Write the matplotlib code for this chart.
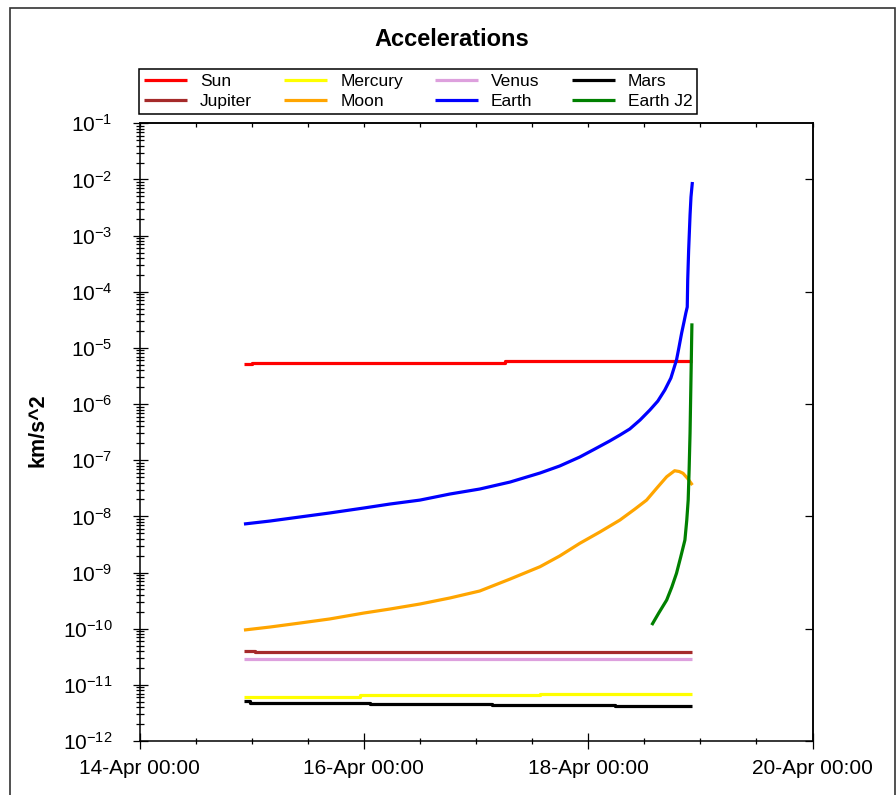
import numpy as np
import matplotlib

matplotlib.use("Agg")
import matplotlib.pyplot as plt
import matplotlib.dates as mdates
from matplotlib.patches import Rectangle
from matplotlib.ticker import LogLocator, NullFormatter, NullLocator

plt.rcParams["font.family"] = ["Liberation Sans", "DejaVu Sans"]
plt.rcParams["mathtext.fontset"] = "custom"
plt.rcParams["mathtext.rm"] = "Liberation Sans"
plt.rcParams["mathtext.it"] = "Liberation Sans:italic"
plt.rcParams["mathtext.bf"] = "Liberation Sans:bold"
plt.rcParams["mathtext.default"] = "regular"

START = np.datetime64("2020-04-14T00:00:00")
X_END = np.datetime64("2020-04-20T00:00:00")

# hours after 14-Apr 00:00 and accelerations in km/s^2
sun_hours = [22.35, 24.1, 78.2, 118.3]
sun_acc = [5.16e-6, 5.45e-6, 5.77e-6, 5.77e-6]

mercury_hours = [22.35, 47.2, 85.7, 118.3]
mercury_acc = [6.14e-12, 6.50e-12, 6.86e-12, 6.86e-12]

venus_hours = [22.35, 118.3]
venus_acc = [2.84e-11, 2.84e-11]

mars_hours = [22.35, 23.6, 49.3, 75.4, 101.7, 118.3]
mars_acc = [5.14e-12, 4.80e-12, 4.61e-12, 4.42e-12, 4.19e-12, 4.19e-12]

jupiter_hours = [22.35, 24.7, 118.3]
jupiter_acc = [4.05e-11, 3.84e-11, 3.84e-11]

moon_hours = [22.35, 27.9, 34.3, 40.7, 48.0, 53.6, 60.0, 66.4, 72.8, 79.3,
              85.7, 89.9, 94.2, 98.5, 102.8, 106.0, 108.5, 110.7, 112.8,
              113.7, 114.5, 115.5, 116.3, 117.3, 118.3]
moon_acc = [9.46e-11, 1.07e-10, 1.26e-10, 1.49e-10, 1.90e-10, 2.24e-10,
            2.75e-10, 3.52e-10, 4.69e-10, 7.66e-10, 1.27e-9, 1.97e-9, 3.31e-9,
            5.27e-9, 8.61e-9, 1.35e-8, 1.95e-8, 3.20e-8, 5.08e-8, 5.79e-8,
            6.50e-8, 6.29e-8, 5.85e-8, 4.72e-8, 3.61e-8]

earth_hours = [22.35, 27.9, 34.3, 40.7, 48.0, 53.6, 60.0, 66.4, 72.8, 79.3,
               85.7, 89.9, 94.2, 97.4, 100.6, 102.8, 104.9, 107.1, 109.2,
               110.9, 112.4, 113.7, 114.9, 115.4, 116.0, 116.5, 116.9, 117.2,
               117.3, 117.5, 117.8, 118.0, 118.3]
earth_acc = [7.31e-9, 8.26e-9, 9.75e-9, 1.15e-8, 1.41e-8, 1.66e-8, 1.95e-8,
             2.50e-8, 3.07e-8, 4.09e-8, 5.92e-8, 7.89e-8, 1.14e-7, 1.58e-7,
             2.20e-7, 2.81e-7, 3.60e-7, 5.20e-7, 7.83e-7, 1.13e-6, 1.78e-6,
             2.91e-6, 6.09e-6, 9.95e-6, 1.84e-5, 2.89e-5, 4.19e-5, 5.35e-5,
             1.62e-4, 5.54e-4, 2.33e-3, 4.87e-3, 9.01e-3]

earth_j2_hours = [109.6, 111.1, 112.8, 113.9, 114.9, 115.8, 116.7, 117.1,
                  117.4, 117.6, 117.8, 118.2]
earth_j2_acc = [1.16e-10, 1.90e-10, 3.24e-10, 5.52e-10, 9.68e-10, 1.89e-9,
                3.79e-9, 8.61e-9, 1.95e-8, 6.70e-8, 3.05e-7, 2.74e-5]


def to_dates(hours):
    secs = np.round(np.asarray(hours) * 3600).astype(np.int64)
    return START + secs.astype("timedelta64[s]")


W, H = 896, 795
fig = plt.figure(figsize=(W / 100, H / 100), dpi=100)
ax = fig.add_axes([139.5 / W, 1 - 741 / H, 673 / W, 617.7 / H])
ax.set_yscale("log")

lw = 2.3
series = [
    ("Sun", sun_hours, sun_acc, "#ff0000", "steps-post"),
    ("Mercury", mercury_hours, mercury_acc, "#ffff00", "steps-post"),
    ("Venus", venus_hours, venus_acc, "#dda0dd", "default"),
    ("Mars", mars_hours, mars_acc, "#000000", "steps-post"),
    ("Jupiter", jupiter_hours, jupiter_acc, "#a52a2a", "steps-post"),
    ("Moon", moon_hours, moon_acc, "#ffa500", "default"),
    ("Earth", earth_hours, earth_acc, "#0000ff", "default"),
    ("Earth J2", earth_j2_hours, earth_j2_acc, "#008000", "default"),
]
lines = {}
for name, hrs, acc, color, ds in series:
    (ln,) = ax.plot(to_dates(hrs), acc, color=color, lw=lw, drawstyle=ds,
                    solid_capstyle="butt", solid_joinstyle="round", label=name)
    lines[name] = ln

ax.set_xlim(START, X_END)
ax.set_ylim(1e-12, 1e-1)

ax.xaxis.set_major_locator(mdates.DayLocator(bymonthday=[14, 16, 18, 20]))
ax.xaxis.set_minor_locator(mdates.HourLocator(byhour=[0, 12]))
ax.xaxis.set_major_formatter(mdates.DateFormatter("%d-%b %H:%M"))
ax.yaxis.set_major_locator(LogLocator(base=10, numticks=20))
ax.yaxis.set_minor_locator(LogLocator(base=10, subs=np.arange(2, 10), numticks=20))
ax.yaxis.set_minor_formatter(NullFormatter())

ax.tick_params(axis="x", which="major", direction="inout", length=11.5, width=0.9,
               labelsize=15, pad=7)
ax.tick_params(axis="x", which="minor", direction="inout", length=4.3, width=0.9)
ax.tick_params(axis="y", which="major", direction="inout", length=10.8, width=0.9,
               labelsize=15, pad=14)
ax.tick_params(axis="y", which="minor", direction="inout", length=5.8, width=0.9)

top = ax.secondary_xaxis("top")
top.xaxis.set_major_locator(mdates.HourLocator(byhour=[0, 12]))
top.xaxis.set_minor_locator(NullLocator())
top.xaxis.set_major_formatter(NullFormatter())
top.tick_params(axis="x", which="major", direction="in", length=2.6, width=0.9)

right = ax.secondary_yaxis("right")
right.tick_params(axis="y", which="major", direction="in", length=5.8, width=0.9,
                  labelright=False)
right.tick_params(axis="y", which="minor", direction="in", length=3.0, width=0.9,
                  labelright=False)
right.yaxis.set_major_formatter(NullFormatter())
right.yaxis.set_minor_formatter(NullFormatter())

for sp in list(ax.spines.values()) + list(top.spines.values()) + list(right.spines.values()):
    sp.set_linewidth(1.1)

fig.text(452 / W, 1 - 39 / H, "Accelerations", ha="center", va="center",
         fontsize=17, fontweight="bold")
fig.text(38 / W, 1 - 430 / H, "km/s^2", ha="center", va="center", rotation=90,
         fontsize=15.5, fontweight="bold")

order = ["Sun", "Jupiter", "Mercury", "Moon", "Venus", "Earth", "Mars", "Earth J2"]
leg = fig.legend([lines[n] for n in order], order, loc="upper left",
                 bbox_to_anchor=(139 / W, 1 - 69 / H), ncol=4, fontsize=12.5,
                 frameon=True, fancybox=False, edgecolor="black", framealpha=1,
                 handlelength=2.5, handletextpad=0.73, columnspacing=1.85,
                 borderpad=0.28, labelspacing=0.28, borderaxespad=0)
leg.get_frame().set_linewidth(1.1)

fig.add_artist(Rectangle((10 / W, -0.01), (894.5 - 10) / W, 1 - 8 / H + 0.01,
                         transform=fig.transFigure, fill=False,
                         edgecolor="#333333", lw=1.2))

fig.savefig("out.png", dpi=100)
